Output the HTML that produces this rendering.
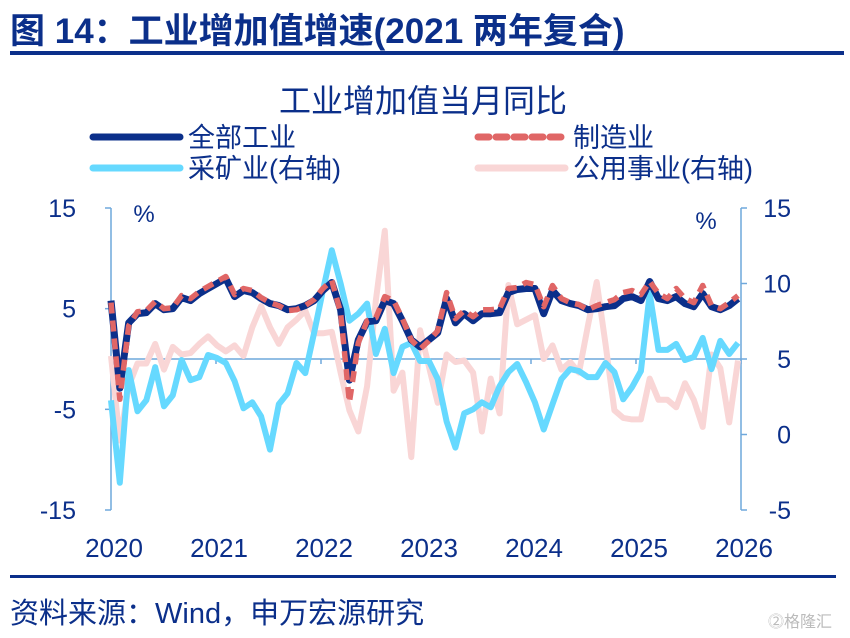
<!DOCTYPE html>
<html><head><meta charset="utf-8">
<style>
body{margin:0;background:#fff;}
#wrap{position:relative;width:850px;height:638px;overflow:hidden;font-family:"Liberation Sans","Noto Sans CJK SC",sans-serif;color:#0b2f8a;}
.t{position:absolute;white-space:nowrap;}
</style></head>
<body>
<div id="wrap">
<div class="t" style="left:10px;top:3px;font-size:35px;font-weight:bold;">图 14：工业增加值增速(2021 两年复合)</div>
<div style="position:absolute;left:10px;top:51px;width:834px;height:4px;background:#0b2f8a;"></div>
<svg id="chart" width="850" height="638" style="position:absolute;left:0;top:0;"></svg>
<div style="position:absolute;left:10px;top:575px;width:826px;height:3px;background:#0b2f8a;"></div>
<div class="t" style="left:10px;top:590px;font-size:29px;color:#0b2f8a;">资料来源：Wind，申万宏源研究</div>
<div class="t" style="left:768px;top:608px;font-size:16px;color:#bbb;">⓶格隆汇</div>
</div>
<script>
const years = ["2020","2021","2022","2023","2024","2025","2026"];
const leftTicks = [15,5,-5,-15];
const rightTicks = [15,10,5,0,-5];
const total = [5.8,-2.9,3.6,4.5,4.6,5.5,4.9,5.0,6.1,5.8,6.5,7.0,7.5,8.0,6.2,6.8,6.6,6.0,5.5,5.3,4.9,5.0,5.3,5.8,6.8,7.6,4.9,-2.1,1.9,3.7,3.8,5.8,5.5,3.8,1.9,1.2,1.9,2.6,6.0,3.6,4.5,3.8,4.5,4.5,4.6,6.6,6.9,7.0,7.0,4.5,6.8,5.8,5.5,5.3,4.9,5.0,5.2,5.3,6.0,6.2,5.8,7.7,6.0,5.8,6.2,5.5,5.2,6.5,5.2,4.9,5.3,6.0];
const manuf = [5.6,-4.0,3.3,4.7,4.8,5.7,5.0,5.1,6.3,6.0,6.7,7.2,7.7,8.2,6.4,7.0,6.8,6.1,5.6,5.3,4.8,4.9,5.3,5.9,7.0,7.8,4.6,-4.3,1.6,3.8,4.1,6.2,5.8,4.0,1.9,1.0,1.8,2.8,6.6,4.0,4.8,4.2,4.9,4.9,5.0,7.0,7.1,7.6,7.4,5.2,7.3,6.0,5.6,5.4,4.9,5.3,5.6,5.9,6.6,6.8,6.4,7.7,6.5,6.0,7.0,6.0,5.6,7.3,5.3,5.0,5.6,6.3];
const mining = [-4.1,-12.3,-1.1,-5.2,-4.1,-0.8,-4.7,-3.6,-0.1,-2.1,-1.8,0.4,0.1,-0.4,-2.2,-4.9,-4.3,-5.7,-9.0,-4.5,-3.4,-0.4,-1.4,2.6,6.8,10.8,7.5,3.8,4.5,5.5,0.5,3.0,-1.4,1.2,1.6,-0.2,-0.2,-2.0,-6.2,-8.8,-5.4,-5.0,-4.3,-4.8,-2.7,-1.3,-0.5,-2.3,-4.3,-7.0,-4.5,-2.0,-1.0,-1.2,-1.8,-1.8,-0.4,-1.3,-4.0,-2.8,-1.2,6.5,0.9,0.9,1.5,-0.1,0.2,2.1,-1.0,1.8,0.5,1.6];
const utility = [5.2,-0.4,3.2,4.7,4.7,6.0,4.3,5.8,5.3,5.4,6.0,6.5,5.9,5.5,5.9,5.2,7.1,8.5,7.1,6.0,7.1,7.6,8.2,6.7,6.7,6.8,4.1,1.6,0.2,3.2,8.9,13.5,2.9,4.1,-1.5,6.9,4.5,2.1,5.3,4.8,4.9,4.1,0.2,3.7,1.4,9.9,7.3,7.6,7.9,5.0,5.9,4.3,4.8,4.1,7.2,10.1,6.0,1.6,1.1,1.0,1.0,3.7,2.3,2.3,1.8,3.4,2.3,0.5,5.3,4.4,0.8,4.9];

const svg = document.getElementById('chart');
const NS = 'http://www.w3.org/2000/svg';
const X0 = 111, X1 = 741, YT = 208, YB = 510;
const xOf = i => X0 + i * (738 - X0) / (total.length - 1);
const yL = v => YT + (15 - v) * (YB - YT) / 30;
const yR = v => YT + (15 - v) * (YB - YT) / 20;
function mk(tag, attrs) { const e = document.createElementNS(NS, tag); for (const k in attrs) e.setAttribute(k, attrs[k]); svg.appendChild(e); return e; }
function txt(x, y, s, size, anchor) { const t = mk('text', {x: x, y: y, 'font-size': size, fill: '#0b2f8a', 'text-anchor': anchor || 'start', 'font-family': '"Liberation Sans","Noto Sans CJK SC",sans-serif'}); t.textContent = s; return t; }

let e = txt(423, 112, '工业增加值当月同比', 32, 'middle');



const leg = [
  [93, 180, 137, '#0b2f8a', null, '全部工业'],
  [478, 565, 137, '#e06666', '11 7', '制造业'],
  [93, 180, 168, '#66d9ff', null, '采矿业(右轴)'],
  [478, 565, 168, '#f9d6d6', null, '公用事业(右轴)']
];
leg.forEach(function (l, k) {
  const ln = mk('line', {x1: l[0], x2: l[1], y1: l[2], y2: l[2], stroke: l[3], 'stroke-width': 7, 'stroke-linecap': 'round'});
  if (l[4]) ln.setAttribute('stroke-dasharray', l[4]);
  
  
  const t = txt(l[1] + 8, l[2] + 10, l[5], 27);
  
  
});

e = mk('line', {x1: X0, x2: X0, y1: YT, y2: YB, stroke: '#6fa8dc', 'stroke-width': 1.5});


e = mk('line', {x1: X1, x2: X1, y1: YT, y2: YB, stroke: '#6fa8dc', 'stroke-width': 1.5});


e = mk('line', {x1: X0, x2: X1, y1: yL(0), y2: yL(0), stroke: '#6fa8dc', 'stroke-width': 1.5});


leftTicks.forEach(function (v) {
  mk('line', {x1: X0 - 6, x2: X0, y1: yL(v), y2: yL(v), stroke: '#6fa8dc', 'stroke-width': 1.5});
  const t = txt(76, yL(v) + 9, String(v), 25, 'end');
  
  
});
rightTicks.forEach(function (v) {
  mk('line', {x1: X1, x2: X1 + 6, y1: yR(v), y2: yR(v), stroke: '#6fa8dc', 'stroke-width': 1.5});
  const t = txt(791, yR(v) + 9, String(v), 25, 'end');
  
  
});
years.forEach(function (y, k) {
  const x = X0 + k * (X1 - X0) / 6;
  mk('line', {x1: x, x2: x, y1: yL(0), y2: yL(0) + 5, stroke: '#6fa8dc', 'stroke-width': 1.5});
  const t = txt(x + 3, 557, y, 26, 'middle');
  
  
});
e = txt(144, 222, '%', 24, 'middle');


e = txt(706, 229, '%', 24, 'middle');



function series(arr, yf, color, w, dash, name) {
  const d = arr.map(function (v, i) { return (i ? 'L' : 'M') + xOf(i).toFixed(1) + ',' + yf(v).toFixed(1); }).join('');
  const p = mk('path', {d: d, fill: 'none', stroke: color, 'stroke-width': w, 'stroke-linejoin': 'round'});
  if (dash) p.setAttribute('stroke-dasharray', dash);
  
  
}
series(utility, yR, '#f9d6d6', 6, null, 'utility-line');
series(mining, yL, '#66d9ff', 6, null, 'mining-line');
series(total, yL, '#0b2f8a', 7, null, 'total-industry-line');
series(manuf, yL, '#e06666', 5.5, '11 7', 'manufacturing-line');
</script>
</body></html>
